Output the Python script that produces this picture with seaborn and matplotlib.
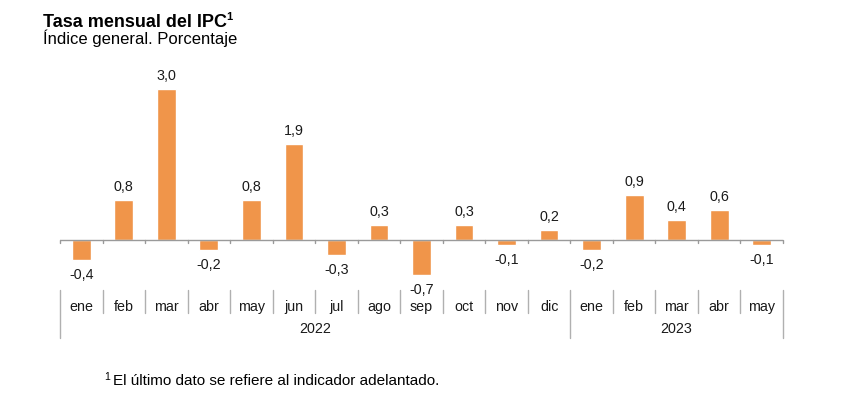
import matplotlib
matplotlib.use("Agg")
import matplotlib.pyplot as plt
import matplotlib.transforms as mtransforms
import seaborn as sns
import pandas as pd

months = ["ene", "feb", "mar", "abr", "may", "jun", "jul", "ago", "sep", "oct", "nov", "dic",
          "ene", "feb", "mar", "abr", "may"]
years = ["2022", "2023"]
year_counts = [12, 5]
values = [-0.4, 0.8, 3.0, -0.2, 0.8, 1.9, -0.3, 0.3, -0.7, 0.3, -0.1, 0.2,
          -0.2, 0.9, 0.4, 0.6, -0.1]
labels = ["-0,4", "0,8", "3,0", "-0,2", "0,8", "1,9", "-0,3", "0,3", "-0,7", "0,3", "-0,1", "0,2",
          "-0,2", "0,9", "0,4", "0,6", "-0,1"]

sns.set_theme(style="white")
plt.rcParams['font.family'] = ['Liberation Sans', 'DejaVu Sans']

W, H = 846, 411
fig = plt.figure(figsize=(W / 100, H / 100), dpi=100)

ymin, ymax = -0.9, 3.2
px_per_unit = 50.3
zero_px = 240
top_px = zero_px - ymax * px_per_unit
bot_px = zero_px - ymin * px_per_unit
x0_px, x1_px = 60, 783
ax = fig.add_axes([x0_px / W, 1 - bot_px / H, (x1_px - x0_px) / W, (bot_px - top_px) / H])

df = pd.DataFrame({"idx": list(range(len(values))), "value": values})
color = "#F0954A"
sns.barplot(data=df, x="idx", y="value", color=color, width=0.44, saturation=1,
            ax=ax, order=list(range(len(values))))
ax.set_xlim(-0.5, len(values) - 0.5)
ax.set_ylim(ymin, ymax)
for s in ax.spines.values():
    s.set_visible(False)
ax.set_xlabel("")
ax.set_ylabel("")
ax.set_yticks([])
ax.set_xticks([])

gray = "#9a9a9a"
ax.axhline(0, color=gray, lw=1.0, xmin=0, xmax=1, zorder=3)

for b in range(len(values) + 1):
    ax.plot([b - 0.5, b - 0.5], [0, -3 / px_per_unit], color=gray, lw=1.0, clip_on=False)

for i, (v, lab) in enumerate(zip(values, labels)):
    if v >= 0:
        ax.annotate(lab, (i, v), xytext=(0, 6), textcoords="offset pixels",
                    ha="center", va="bottom", fontsize=10.3, color="#1a1a1a")
    else:
        ax.annotate(lab, (i, v), xytext=(0, -8), textcoords="offset pixels",
                    ha="center", va="top", fontsize=10.3, color="#1a1a1a")

blend = mtransforms.blended_transform_factory(ax.transData, fig.transFigure)
def fy(px):
    return 1 - px / H

sep_color = "#b0b0b0"
year_bounds = [0]
for c in year_counts:
    year_bounds.append(year_bounds[-1] + c)
for b in range(len(values) + 1):
    long = b in year_bounds
    bottom = 338 if long else 313
    ax.plot([b - 0.5, b - 0.5], [fy(290), fy(bottom)], color=sep_color, lw=1.0,
            transform=blend, clip_on=False)

for i, m in enumerate(months):
    ax.text(i, fy(307), m, transform=blend, ha="center", va="center", fontsize=10.3, color="#1a1a1a")

for k, yr in enumerate(years):
    center = (year_bounds[k] + year_bounds[k + 1] - 1) / 2
    ax.text(center, fy(329), yr, transform=blend, ha="center", va="center", fontsize=10.3,
            color="#1a1a1a")

# titles
t = fig.text(43 / W, fy(27), "Tasa mensual del IPC", ha="left", va="baseline",
             fontsize=13, fontweight="bold", color="black")
fig.canvas.draw()
bb = t.get_window_extent()
fig.text((bb.x1 - 0.5) / W, fy(27) + 7 / H, "1", ha="left", va="baseline",
         fontsize=8, fontweight="bold", color="black")
fig.text(43 / W, fy(44), "Índice general. Porcentaje", ha="left", va="baseline",
         fontsize=12, color="black")
fig.text(104 / W, fy(380), "1", ha="left", va="baseline", fontsize=7.5, color="black")
fig.text(113 / W, fy(385), "El último dato se refiere al indicador adelantado.",
         ha="left", va="baseline", fontsize=11, color="black")

fig.savefig("out.png", dpi=100, facecolor="white")
